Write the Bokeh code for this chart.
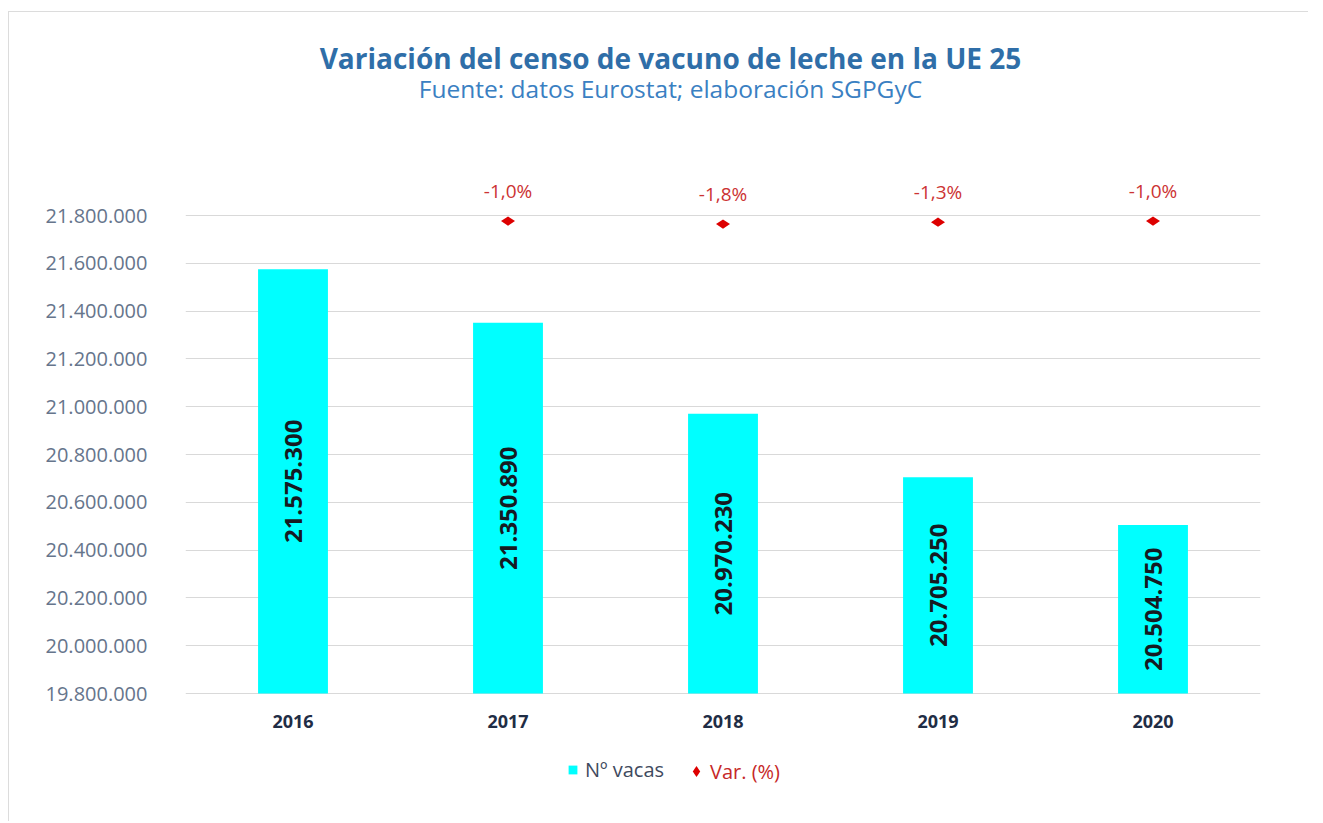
import math
from bokeh.plotting import figure
from bokeh.models import (ColumnDataSource, Range1d, FactorRange, FixedTicker,
                          CustomJSTickFormatter, Label, Legend, LegendItem)
from bokeh.core.properties import value
from bokeh.embed import file_html
from bokeh.resources import INLINE

# ---------------- data ----------------
years = ["2016", "2017", "2018", "2019", "2020"]
vacas = [21575300, 21350890, 20970230, 20705250, 20504750]
var_years = ["2017", "2018", "2019", "2020"]
var_pct = [-1.0, -1.8, -1.3, -1.0]
var_labels = ["-1,0%", "-1,8%", "-1,3%", "-1,0%"]
y_ticks = [19800000, 20000000, 20200000, 20400000, 20600000, 20800000,
           21000000, 21200000, 21400000, 21600000, 21800000]
base = 19800000

title_text = "Variación del censo de vacuno de leche en la UE 25"
subtitle_text = "Fuente: datos Eurostat; elaboración SGPGyC"

FONT = "Open Sans"

bar_src = ColumnDataSource(dict(
    year=years,
    vacas=vacas,
    mid=[(base + v) / 2 for v in vacas],
    lbl=[f"{v:,}".replace(",", ".") for v in vacas],
))
var_src = ColumnDataSource(dict(year=var_years, pct=var_pct, lbl=var_labels))

p = figure(x_range=FactorRange(*years), y_range=Range1d(19406700, 22615900),
           width=1300, height=810, output_backend="svg", toolbar_location=None,
           min_border_left=176, min_border_right=49, min_border_top=8,
           min_border_bottom=35, background_fill_color="white",
           border_fill_color="white")
p.styles = {"margin-left": "8px", "margin-top": "11px",
            "border-left": "1px solid #dcdcdc", "border-top": "1px solid #dcdcdc"}
p.extra_y_ranges = {"pct": Range1d(-152.1, 52.5)}
p.outline_line_color = None

r_bar = p.vbar(x="year", top="vacas", bottom=base, width=0.325, source=bar_src,
               fill_color="#00FFFF", line_color=None)

p.text(x="year", y="mid", text="lbl", source=bar_src, angle=math.pi / 2,
       text_align="center", text_baseline="middle", text_font=value(FONT),
       text_font_style="bold", text_font_size="24px", text_color="#161a22")

r_var = p.scatter(x="year", y="pct", y_range_name="pct", source=var_src,
                  marker="diamond", angle=math.pi / 2, size=14,
                  fill_color="#dd0000", line_color=None)
p.text(x="year", y="pct", y_range_name="pct", text="lbl", source=var_src,
       y_offset=-30, text_align="center", text_baseline="middle",
       text_font=value(FONT), text_font_size="19px", text_color="#cc3333")

# axes
p.yaxis.ticker = FixedTicker(ticks=y_ticks)
p.yaxis.formatter = CustomJSTickFormatter(
    code="return Math.round(tick).toString().replace(/\\B(?=(\\d{3})+(?!\\d))/g, '.');")
for ax in (p.xaxis, p.yaxis):
    ax.axis_line_color = None
    ax.major_tick_line_color = None
    ax.minor_tick_line_color = None
    ax.major_tick_out = 0
    ax.major_tick_in = 0
    ax.major_label_text_font = FONT
p.yaxis.major_label_standoff = 38
p.yaxis.major_label_text_font_size = "20px"
p.yaxis.major_label_text_color = "#66758c"
p.xaxis.fixed_location = 19737000
p.xaxis.major_label_standoff = 6
p.xaxis.major_label_text_font_size = "18px"
p.xaxis.major_label_text_font_style = "bold"
p.xaxis.major_label_text_color = "#1f2d45"

p.xgrid.grid_line_color = None
p.ygrid.grid_line_color = "#d9d9d9"

# titles (inside the frame's upper empty area)
p.add_layout(Label(x=485, y=730, x_units="screen", y_units="screen", text=title_text,
                   text_align="center", text_baseline="middle", text_font=FONT,
                   text_font_style="bold", text_font_size="28px", text_color="#2f6ea8"))
p.add_layout(Label(x=485, y=699, x_units="screen", y_units="screen", text=subtitle_text,
                   text_align="center", text_baseline="middle", text_font=FONT,
                   text_font_size="24.5px", text_color="#3a80c2"))

# legends (inside the frame's lower empty area)
common = dict(orientation="horizontal", padding=0, spacing=0, margin=0,
              border_line_color=None, background_fill_alpha=0,
              label_text_font=FONT, label_text_font_size="20px")
leg1 = Legend(items=[LegendItem(label="Nº vacas", renderers=[r_bar])],
              location=(382, 4), label_text_color="#404a5e",
              glyph_width=11, glyph_height=11, label_standoff=7, **common)
leg2 = Legend(items=[LegendItem(label="Var. (%)", renderers=[r_var])],
              location=(497, 2), label_text_color="#c62828",
              glyph_width=28, glyph_height=28, label_standoff=0, **common)
p.add_layout(leg1)
p.add_layout(leg2)

open("out.html", "w").write(file_html(p, INLINE))
